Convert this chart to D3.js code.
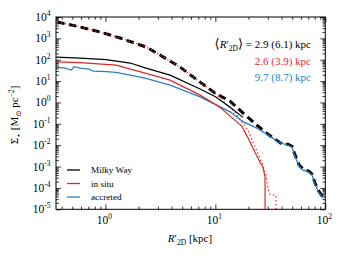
<!DOCTYPE html>
<html>
<head>
<meta charset="utf-8">
<script src="https://cdn.jsdelivr.net/npm/d3@7"></script>
<style>
body { margin: 0; background: #fff; }
svg text { font-family: "Liberation Serif", "Times New Roman", "DejaVu Serif", serif; fill: #000; }
</style>
</head>
<body>
<div id="chart"></div>
<script>
// surface density profiles
var mwR     = [0.356, 0.589, 1.015, 1.68, 2.34, 3.87, 7.26, 9.93, 13.6, 17.9];
var mwSigma = [133, 120, 102, 70, 40.6, 19.1, 4.3, 1.9, 0.6, 0.2];

var inSituR     = [0.356, 0.589, 1.25, 2.34, 3.87, 7.26, 11.0, 13.6, 17.4, 20.3, 22.9, 25.5, 27.1, 28.3, 28.4];
var inSituSigma = [80, 73.6, 56, 22.9, 11.1, 2.2, 0.6, 0.23, 0.078, 0.017, 0.0047, 0.0016, 0.00093, 0.00032, 1e-8];

var accR     = [0.356, 0.421, 0.488, 0.52, 0.589, 0.711, 0.773, 1.015, 1.25, 1.68, 2.34, 3.87, 7.26, 13.6, 17.9, 23.9, 31.4, 37.2, 45.8, 49.8, 53.0, 57.7, 62.7, 71.1, 75.7, 80.6, 85.8, 95.3];
var accSigma = [43.8, 41.5, 32.7, 46.8, 40.6, 36.5, 29.4, 27.9, 25.5, 19.1, 13.4, 6.5, 1.83, 0.363, 0.123, 0.0625, 0.0264, 0.0138, 0.01, 0.008, 0.003, 0.00103, 0.00067, 0.00054, 0.00039, 0.000148, 0.00007, 0.000033];

// dashed / dotted variants
var mwDashR     = [0.364, 0.589, 0.895, 1.36, 2.34, 3.14, 4.77, 7.26, 9.93, 13.6, 17.9, 23.9, 30.1, 40.4, 45.8, 49.8, 53.0, 57.7, 62.7, 71.1, 75.7, 80.6, 85.8, 95.3];
var mwDashSigma = [5840, 3400, 1980, 1040, 393, 166, 45.3, 8.98, 2.74, 1.15, 0.316, 0.0865, 0.0327, 0.0111, 0.0111, 0.0089, 0.0035, 0.0012, 0.00075, 0.0006, 0.00044, 0.00017, 0.00008, 0.000036];

var inSituDotR     = [0.364, 0.589, 0.895, 1.36, 2.34, 3.14, 4.77, 7.26, 9.93, 15.1, 17.5, 19.8, 21.6, 23.9, 26.6, 28.9, 30.1, 31.4, 35.6, 35.7];
var inSituDotSigma = [5840, 3400, 1980, 1040, 393, 166, 45.3, 8.98, 2.74, 0.352, 0.119, 0.0503, 0.0171, 0.0052, 0.00143, 0.00039, 0.000096, 0.00005, 0.000045, 1e-8];

var accDotR     = [13.6, 17.9, 23.9, 31.4, 37.2, 45.8, 49.8, 53.0, 57.7, 62.7, 71.1, 75.7, 80.6, 85.8, 95.3];
var accDotSigma = [0.38, 0.13, 0.066, 0.028, 0.0148, 0.0108, 0.0088, 0.0034, 0.0012, 0.00074, 0.0006, 0.00043, 0.00017, 0.00008, 0.000037];

var yExponents = [4, 3, 2, 1, 0, -1, -2, -3, -4, -5];
var xExponents = [0, 1, 2];

var legendLabels = ["Milky Way", "in situ", "accreted"];
var annotationValues = ["2.9 (6.1) kpc", "2.6 (3.9) kpc", "9.7 (8.7) kpc"];

var RED = "#dc2a2a", BLUE = "#2a7dc2", BLACK = "#000";

ProfileChart = function(_parentElement){
	this.parentElement = _parentElement;
	this.initVis();
};

ProfileChart.prototype.initVis = function() {
	var vis = this;

	vis.margin = { top: 17, right: 20.7, bottom: 50.7, left: 56 };
	vis.width = 346 - vis.margin.left - vis.margin.right;
	vis.height = 260 - vis.margin.top - vis.margin.bottom;

	vis.svg = d3.select("#" + vis.parentElement).append("svg")
		.attr("width", 346)
		.attr("height", 260)
		.attr("font-family", "Liberation Serif, Times New Roman, serif")
		.append("g")
		.attr("transform", "translate(" + vis.margin.left + "," + vis.margin.top + ")");

	vis.x = d3.scaleLog().domain([0.355, 100]).range([0, vis.width]);
	vis.y = d3.scaleLog().domain([1e-5, 1e4]).range([vis.height, 0]);

	vis.svg.append("clipPath").attr("id", "plotclip")
		.append("rect").attr("width", vis.width).attr("height", vis.height);

	vis.updateVis();
};

ProfileChart.prototype.updateVis = function() {
	var vis = this;

	var xMajor = xExponents.map(function(e){ return Math.pow(10, e); });
	var xMinor = [];
	[-1, 0, 1].forEach(function(e){
		for (var k = 2; k <= 9; k++) {
			var v = k * Math.pow(10, e);
			if (v >= 0.355 && v <= 100) xMinor.push(v);
		}
	});
	var yMajor = yExponents.map(function(e){ return Math.pow(10, e); });
	var yMinor = [];
	yExponents.forEach(function(e){
		if (e === 4) return;
		for (var k = 2; k <= 9; k++) yMinor.push(k * Math.pow(10, e));
	});

	function tickAxis(axisFn, scale, vals, size, tx, ty) {
		var g = vis.svg.append("g")
			.attr("transform", "translate(" + tx + "," + ty + ")")
			.call(axisFn(scale).tickValues(vals).tickSize(size).tickFormat(""));
		g.select(".domain").remove();
		g.selectAll("line").attr("stroke", "#000").attr("stroke-width", 0.8);
	}
	// inward ticks on all four sides
	tickAxis(d3.axisBottom, vis.x, xMajor, -5, 0, vis.height);
	tickAxis(d3.axisBottom, vis.x, xMinor, -2.8, 0, vis.height);
	tickAxis(d3.axisTop, vis.x, xMajor, -5, 0, 0);
	tickAxis(d3.axisTop, vis.x, xMinor, -2.8, 0, 0);
	tickAxis(d3.axisLeft, vis.y, yMajor, -5, 0, 0);
	tickAxis(d3.axisLeft, vis.y, yMinor, -2.8, 0, 0);
	tickAxis(d3.axisRight, vis.y, yMajor, -5, vis.width, 0);
	tickAxis(d3.axisRight, vis.y, yMinor, -2.8, vis.width, 0);

	vis.svg.append("rect")
		.attr("width", vis.width).attr("height", vis.height)
		.attr("fill", "none").attr("stroke", "#000").attr("stroke-width", 1);

	// tick labels
	var yl = vis.svg.selectAll(".ylab").data(yExponents).enter().append("text")
		.attr("class", "ylab")
		.attr("x", -5.5)
		.attr("y", function(d){ return vis.y(Math.pow(10, d)) + 4; })
		.attr("text-anchor", "end")
		.attr("font-size", 11.5);
	yl.append("tspan").text("10");
	yl.append("tspan").attr("font-size", 7.5).attr("dy", -5).text(function(d){ return d < 0 ? "-" + (-d) : d; });

	var xl = vis.svg.selectAll(".xlab").data(xExponents).enter().append("text")
		.attr("class", "xlab")
		.attr("x", function(d){ return vis.x(Math.pow(10, d)) - 1; })
		.attr("y", vis.height + 15)
		.attr("text-anchor", "middle")
		.attr("font-size", 11.5);
	xl.append("tspan").text("10");
	xl.append("tspan").attr("font-size", 7.5).attr("dy", -5).text(function(d){ return d; });

	// axis titles
	var xt = vis.svg.append("text")
		.attr("x", 134).attr("y", vis.height + 33)
		.attr("text-anchor", "middle").attr("font-size", 11);
	xt.append("tspan").attr("font-style", "italic").text("R");
	xt.append("tspan").text("\u2032");
	xt.append("tspan").attr("font-size", 7.5).attr("dy", 3).text("2D");
	xt.append("tspan").attr("dy", -3).text(" [kpc]");

	var yt = vis.svg.append("text")
		.attr("transform", "translate(-38," + (98) + ") rotate(-90)")
		.attr("text-anchor", "middle").attr("font-size", 11);
	yt.append("tspan").text("\u03A3");
	yt.append("tspan").attr("font-size", 7.5).attr("dy", 3).text("\u22C6");
	yt.append("tspan").attr("dy", -3).text(" [M");
	yt.append("tspan").attr("font-size", 7.5).attr("dy", 3).text("\u2299");
	yt.append("tspan").attr("dy", -3).text(" pc");
	yt.append("tspan").attr("font-size", 7.5).attr("dy", -4).text("\u22122");
	yt.append("tspan").attr("dy", 4).text("]");

	// curves
	var line = d3.line()
		.x(function(d){ return vis.x(d[0]); })
		.y(function(d){ return vis.y(d[1]); });

	var plot = vis.svg.append("g").attr("clip-path", "url(#plotclip)");

	function drawSeries(rs, vals, color, width, dash) {
		var pts = d3.zip(rs, vals);
		plot.append("path").datum(pts)
			.attr("d", line)
			.attr("fill", "none")
			.attr("stroke", color)
			.attr("stroke-width", width)
			.attr("stroke-dasharray", dash || null);
	}

	drawSeries(accDotR, accDotSigma, BLUE, 1.2, "1.2,2.6");
	drawSeries(mwDashR, mwDashSigma, BLACK, 3, "7.5,4.5");
	drawSeries(inSituDotR, inSituDotSigma, RED, 1.3, "1.3,2.6");
	drawSeries(accR, accSigma, BLUE, 1.2);
	drawSeries(inSituR, inSituSigma, RED, 1.2);
	drawSeries(mwR, mwSigma, BLACK, 1.2);

	// annotation
	var a = vis.svg.append("text")
		.attr("x", 255).attr("y", 31)
		.attr("text-anchor", "end").attr("font-size", 11);
	a.append("tspan").attr("font-size", 13).text("\u27E8");
	a.append("tspan").attr("font-style", "italic").text("R");
	a.append("tspan").text("\u2032");
	a.append("tspan").attr("font-size", 7.5).attr("dy", 3).text("2D");
	a.append("tspan").attr("font-size", 13).attr("dy", -3).text("\u27E9");
	a.append("tspan").text(" = " + annotationValues[0]);

	vis.svg.append("text").attr("x", 255).attr("y", 48)
		.attr("text-anchor", "end").attr("font-size", 11)
		.style("fill", RED).text(annotationValues[1]);
	vis.svg.append("text").attr("x", 255).attr("y", 63.5)
		.attr("text-anchor", "end").attr("font-size", 11)
		.style("fill", BLUE).text(annotationValues[2]);

	// legend
	var legendColors = [BLACK, RED, BLUE];
	var lg = vis.svg.selectAll(".legend").data(legendLabels).enter().append("g")
		.attr("class", "legend")
		.attr("transform", function(d, i){ return "translate(11," + (153 + i * 13.5) + ")"; });
	lg.append("line").attr("x1", 0).attr("x2", 13)
		.attr("stroke", function(d, i){ return legendColors[i]; })
		.attr("stroke-width", 1.3);
	lg.append("text").attr("x", 24).attr("y", 3).attr("font-size", 9.2).text(function(d){ return d; });
};

new ProfileChart("chart");
</script>
</body>
</html>
